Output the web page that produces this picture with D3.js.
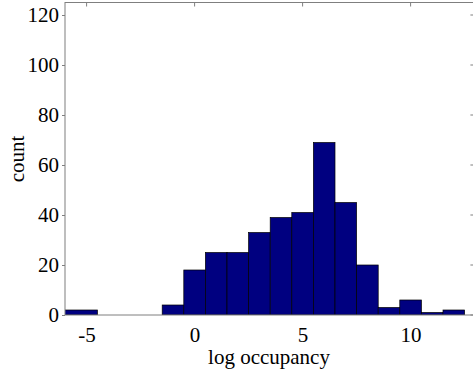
<!DOCTYPE html>
<html>
<head>
<meta charset="utf-8">
<script src="https://cdn.jsdelivr.net/npm/d3@7"></script>
<style>
  body { margin: 0; background: #fff; }
  svg { display: block; }
  text { font-family: "Liberation Serif", "Times New Roman", serif; fill: #000; }
</style>
</head>
<body>
<div id="chart"></div>
<script>
const width = 473;
const height = 376;

// histogram bins: left edge, right edge, count
const binStart = [-6.5, -4.5, -3.5, -2.5, -1.5, -0.5, 0.5, 1.5, 2.5, 3.5, 4.5, 5.5, 6.5, 7.5, 8.5, 9.5, 10.5, 11.5];
const binEnd   = [-4.5, -3.5, -2.5, -1.5, -0.5, 0.5, 1.5, 2.5, 3.5, 4.5, 5.5, 6.5, 7.5, 8.5, 9.5, 10.5, 11.5, 12.5];
const counts   = [2, 0, 0, 0, 4, 18, 25, 25, 33, 39, 41, 69, 45, 20, 3, 6, 1, 2];

const xTicks = [-5, 0, 5, 10];
const yTicks = [0, 20, 40, 60, 80, 100, 120];

const bins = binStart.map((s, i) => ({ x0: s, x1: binEnd[i], n: counts[i] }));

const svg = d3.select('#chart')
    .append('svg')
    .attr('width', width)
    .attr('height', height);

// scales - plot box runs a bit past the right edge of the window
const x = d3.scaleLinear().domain([-6, 13]).range([65, 475.4]);
const y = d3.scaleLinear().domain([0, 125]).range([315, 2.5]);

svg.append('clipPath')
    .attr('id', 'plotclip')
    .append('rect')
    .attr('x', 65).attr('y', 2.5)
    .attr('width', 410.4).attr('height', 312.5);

// bars
svg.append('g')
    .attr('clip-path', 'url(#plotclip)')
    .selectAll('rect')
    .data(bins.filter(d => d.n > 0))
    .join('rect')
    .attr('x', d => x(d.x0))
    .attr('y', d => y(d.n))
    .attr('width', d => x(d.x1) - x(d.x0))
    .attr('height', d => y(0) - y(d.n))
    .attr('fill', '#000080')
    .attr('stroke', '#000')
    .attr('stroke-width', 0.7);

// axis box
const axisColor = '#7f7f7f';
svg.append('rect')
    .attr('x', 65).attr('y', 2.5)
    .attr('width', 410.4).attr('height', 312.5)
    .attr('fill', 'none')
    .attr('stroke', axisColor)
    .attr('stroke-width', 1);

// plain hyphen for negatives, like the original
const fmt = d => String(d);

// y axis (left), ticks mirrored on right
const yAxis = d3.axisLeft(y).tickValues(yTicks).tickFormat(fmt).tickSize(3).tickPadding(3);
const yg = svg.append('g').attr('transform', 'translate(65,0)').call(yAxis);
yg.select('.domain').remove();
yg.selectAll('.tick line').attr('stroke', axisColor);
yg.selectAll('.tick text')
    .style('font-size', '21px')
    .style('font-family', '"Liberation Serif", serif');

svg.append('g')
    .selectAll('line')
    .data(yTicks)
    .join('line')
    .attr('x1', 475.4).attr('x2', 470.4)
    .attr('y1', d => y(d)).attr('y2', d => y(d))
    .attr('stroke', axisColor);

// x axis (bottom), ticks mirrored on top
const xAxis = d3.axisBottom(x).tickValues(xTicks).tickFormat(fmt).tickSize(0).tickPadding(12);
const xg = svg.append('g').attr('transform', 'translate(0,315)').call(xAxis);
xg.select('.domain').remove();
xg.selectAll('.tick text')
    .style('font-size', '21px')
    .style('font-family', '"Liberation Serif", serif');

svg.append('g')
    .selectAll('line')
    .data(xTicks)
    .join('line')
    .attr('x1', d => x(d)).attr('x2', d => x(d))
    .attr('y1', 2.5).attr('y2', 6.5)
    .attr('stroke', axisColor);

// labels
svg.append('text')
    .attr('x', 269)
    .attr('y', 364)
    .attr('text-anchor', 'middle')
    .style('font-size', '21px')
    .text('log occupancy');

svg.append('text')
    .attr('transform', 'translate(24,159) rotate(-90)')
    .attr('text-anchor', 'middle')
    .style('font-size', '21px')
    .text('count');
</script>
</body>
</html>
